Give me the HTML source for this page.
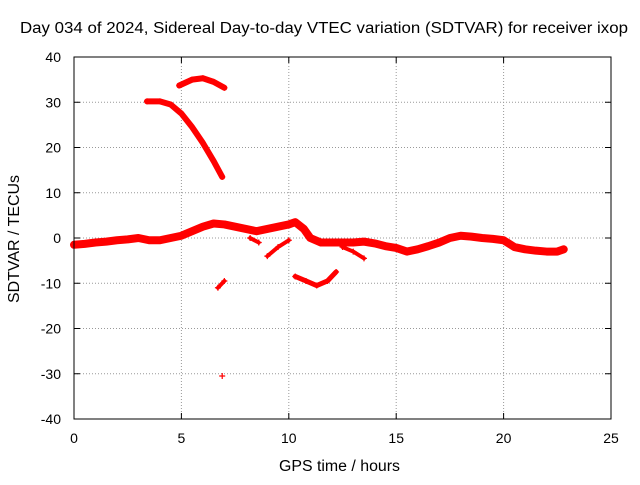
<!DOCTYPE html>
<html><head><meta charset="utf-8"><style>
body{margin:0;background:#fff;font-family:"Liberation Sans",sans-serif}
svg text{font-family:"Liberation Sans",sans-serif;font-size:14px;fill:#000}
</style></head><body>
<svg width="640" height="480">
<rect width="640" height="480" fill="#fff"/>
<g id="grid"></g>
<g id="series"></g>
<rect x="74" y="57" width="537" height="362" fill="none" stroke="#000"/>
<g id="ticks"></g>
<text x="20" y="33" textLength="608" lengthAdjust="spacingAndGlyphs" style="font-size:15.5px">Day 034 of 2024, Sidereal Day-to-day VTEC variation (SDTVAR) for receiver ixop</text>
<text x="279" y="471" textLength="121" lengthAdjust="spacingAndGlyphs" style="font-size:15.5px">GPS time / hours</text>
<text transform="translate(19,303) rotate(-90)" textLength="128" lengthAdjust="spacingAndGlyphs" style="font-size:15.5px">SDTVAR / TECUs</text>
</svg>
<script>
const xTicks=[0,5,10,15,20,25];
const yTicks=[-40,-30,-20,-10,0,10,20,30,40];
const mainBand=[[0,-1.5],[0.5,-1.3],[1,-1],[1.5,-0.8],[2,-0.5],[2.5,-0.3],[3,0],[3.5,-0.5],[4,-0.5],[4.5,0],[5,0.5],[5.5,1.5],[6,2.5],[6.5,3.2],[7,3],[7.5,2.5],[8,2],[8.5,1.5],[9,2],[9.5,2.5],[10,3],[10.3,3.5],[10.7,2],[11,0],[11.5,-1],[12,-1],[12.5,-1],[13,-1],[13.5,-0.8],[14,-1.2],[14.5,-1.8],[15,-2.2],[15.5,-3],[16,-2.5],[16.5,-1.8],[17,-1],[17.5,0],[18,0.5],[18.5,0.3],[19,0],[19.5,-0.2],[20,-0.5],[20.5,-2],[21,-2.5],[21.5,-2.8],[22,-3],[22.5,-3],[22.8,-2.5]];
const fallArc=[[3.4,30.2],[4,30.2],[4.5,29.5],[5,27.5],[5.5,24.5],[6,21],[6.5,17],[6.9,13.5]];
const topArc=[[4.9,33.7],[5.5,35],[6,35.3],[6.5,34.5],[7,33.2]];
const lowArc=[[10.3,-8.5],[10.8,-9.5],[11.3,-10.5],[11.8,-9.5],[12.2,-7.5]];
const shortDip=[[6.7,-11],[7.0,-9.5]];
const dip2=[[9,-4],[9.5,-2],[10,-0.5]];
const dip3=[[8.2,0],[8.6,-1]];
const dip4=[[12.5,-2],[13,-3],[13.5,-4.5]];
const outliers=[[6.9,-30.5]];
const X=v=>74+v*537/25, Y=v=>238-v*362/80;
const ns="http://www.w3.org/2000/svg";
const g=document.getElementById('grid'),t=document.getElementById('ticks'),s=document.getElementById('series');
function mk(tag,a,p){const e=document.createElementNS(ns,tag);for(const k in a)e.setAttribute(k,a[k]);p.appendChild(e);return e;}
xTicks.forEach(v=>{
 if(v>0&&v<25){const l=mk('line',{x1:X(v),x2:X(v),y1:57,y2:419,stroke:'#999','stroke-dasharray':'1,2'},g);
 
 }
 mk('line',{x1:X(v),x2:X(v),y1:419,y2:413,stroke:'#000'},t);mk('line',{x1:X(v),x2:X(v),y1:57,y2:63,stroke:'#000'},t);
 const tx=mk('text',{x:X(v),y:443,'text-anchor':'middle'},t);tx.textContent=v;
 
 
});
yTicks.forEach(v=>{
 if(v>-40&&v<40){const l=mk('line',{x1:74,x2:611,y1:Y(v),y2:Y(v),stroke:'#999','stroke-dasharray':'1,2'},g);
 
 }
 mk('line',{x1:74,x2:80,y1:Y(v),y2:Y(v),stroke:'#000'},t);mk('line',{x1:611,x2:605,y1:Y(v),y2:Y(v),stroke:'#000'},t);
 const tx=mk('text',{x:61,y:Y(v)+5,'text-anchor':'end'},t);tx.textContent=v;
 
 
});
function draw(arr,w,name){
 const p=mk('polyline',{points:arr.map(d=>X(d[0])+','+Y(d[1])).join(' '),fill:'none',stroke:'#f00','stroke-width':w,'stroke-linejoin':'round','stroke-linecap':'round'},s);
 
 
 arr.forEach(d=>{const m=mk('path',{d:`M${X(d[0])-3},${Y(d[1])}h6M${X(d[0])},${Y(d[1])-3}v6`,stroke:'#f00','stroke-width':1.2},s);
 
 });
}
draw(mainBand,8,'main-band');draw(fallArc,6,'falling-arc');draw(topArc,6,'top-arc');draw(lowArc,5,'low-arc');
draw(shortDip,4,'short-dip');draw(dip2,4,'dip-9h');draw(dip3,4,'dip-8h');draw(dip4,4,'dip-13h');draw(outliers,1,'outlier');
</script>
</body></html>
